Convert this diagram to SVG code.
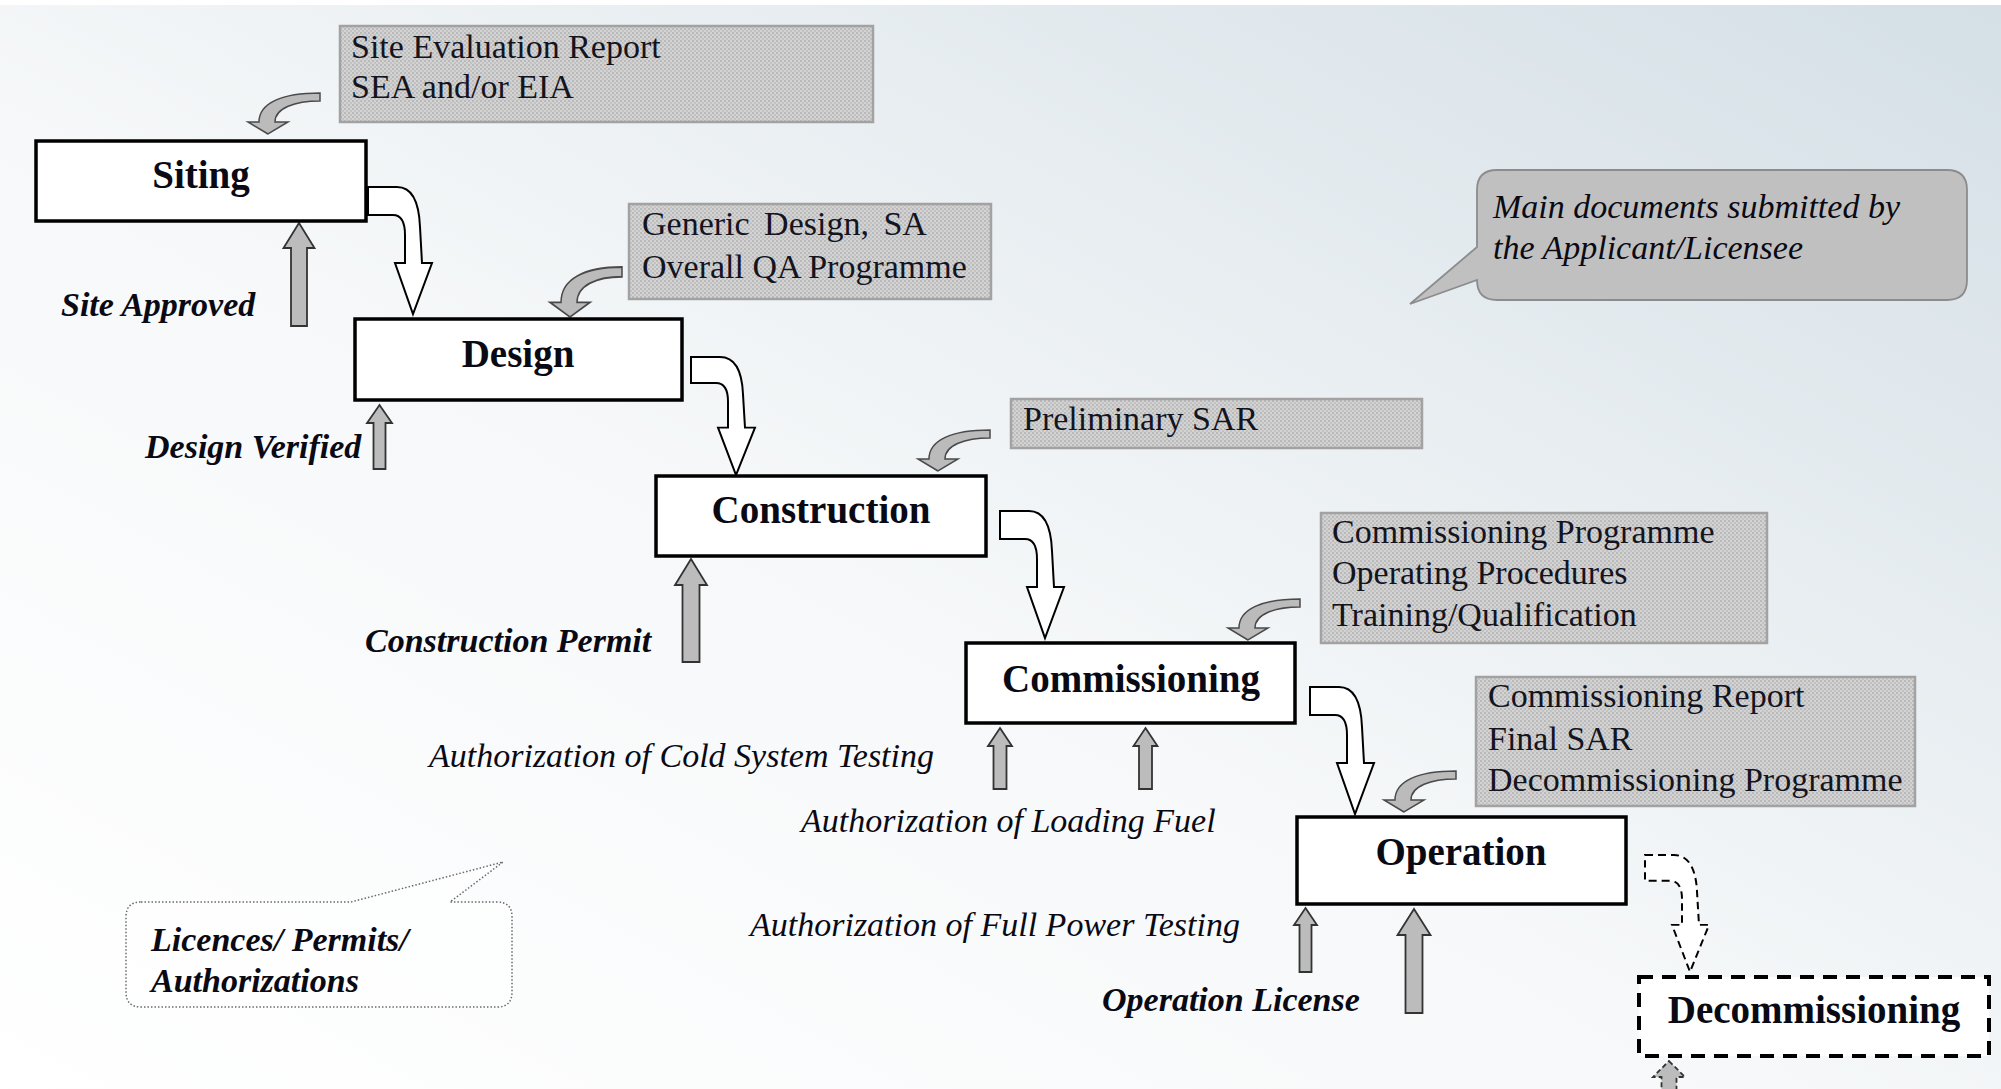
<svg xmlns="http://www.w3.org/2000/svg" xmlns:xlink="http://www.w3.org/1999/xlink" width="2001" height="1089" viewBox="0 0 2001 1089">
<defs>
<linearGradient id="bg" x1="0" y1="1" x2="1" y2="0">
<stop offset="0" stop-color="#ffffff"/>
<stop offset="0.45" stop-color="#f6f8f9"/>
<stop offset="1" stop-color="#d4dfe6"/>
</linearGradient>
<pattern id="dots" width="4" height="4" patternUnits="userSpaceOnUse">
<rect width="4" height="4" fill="#d3d3d3"/>
<rect x="0" y="0" width="2" height="2" fill="#b9b9b9"/>
<rect x="2" y="2" width="2" height="2" fill="#c2c2c2"/>
</pattern>
<path id="flow" d="M0,0 L29,0 C43,0 51,14 52,40 L54,76 L64,76 L45,127 L27,76 L37,76 L37,48 C37,35 33,28 25,28 L0,28 Z"/>
<path id="doc" d="M0,0 L-20,-12 L-9,-12 C-9,-31 14,-41 52,-41 L52,-33 C27,-33 7,-26 7,-12 L20,-12 Z"/>
</defs>
<style>
.node{fill:#ffffff;stroke:#000;stroke-width:3.5}
.nodeDash{fill:#ffffff;stroke:#000;stroke-width:4;stroke-dasharray:14 9}
.nlabel{font-family:"Liberation Serif",serif;font-weight:bold;font-size:39px;fill:#0a0a14;text-anchor:middle}
.docbox{fill:url(#dots);stroke:#a2a2a2;stroke-width:2.5}
.doctext{font-family:"Liberation Serif",serif;font-size:34px;fill:#14141e}
.lab{font-family:"Liberation Serif",serif;font-style:italic;font-size:34px;fill:#0a0a14}
.labb{font-family:"Liberation Serif",serif;font-style:italic;font-weight:bold;font-size:34px;fill:#0a0a14}
.flow{fill:#ffffff;stroke:#000;stroke-width:2}
.flowDash{fill:#ffffff;stroke:#000;stroke-width:2;stroke-dasharray:8 5}
.docarr{fill:#bbbbbb;stroke:#4a4a4a;stroke-width:1.5}
.up{fill:#bcbcbc;stroke:#333;stroke-width:1.8}
.upDash{fill:#bcbcbc;stroke:#333;stroke-width:1.8;stroke-dasharray:5 3}
</style>
<rect width="2001" height="1089" fill="url(#bg)"/>
<rect width="2001" height="5" fill="#ffffff"/>

<g id="connectors">
<use xlink:href="#flow" href="#flow" class="flow" transform="translate(368,187)"/>
<use xlink:href="#flow" href="#flow" class="flow" transform="translate(691,357) scale(1,0.93)"/>
<use xlink:href="#flow" href="#flow" class="flow" transform="translate(1000,511)"/>
<use xlink:href="#flow" href="#flow" class="flow" transform="translate(1310,687)"/>
<use xlink:href="#flow" href="#flow" class="flowDash" transform="translate(1645,855) scale(1,0.92)"/>

<use xlink:href="#doc" href="#doc" class="docarr" transform="translate(268,134)"/>
<use xlink:href="#doc" href="#doc" class="docarr" transform="translate(570,317) scale(1,1.22)"/>
<use xlink:href="#doc" href="#doc" class="docarr" transform="translate(938,471)"/>
<use xlink:href="#doc" href="#doc" class="docarr" transform="translate(1248,640)"/>
<use xlink:href="#doc" href="#doc" class="docarr" transform="translate(1404,812)"/>

<polygon class="up" points="299,223 314.5,248 307,248 307,326 291,326 291,248 283.5,248"/>
<polygon class="up" points="379.5,405 392,423 385.5,423 385.5,469 373.5,469 373.5,423 367,423"/>
<polygon class="up" points="691,559 707,585 699.5,585 699.5,662 682.5,662 682.5,585 675,585"/>
<polygon class="up" points="1000,728 1012,746 1006.5,746 1006.5,789 993.5,789 993.5,746 988,746"/>
<polygon class="up" points="1145.5,728 1157.5,746 1152,746 1152,789 1139,789 1139,746 1133.5,746"/>
<polygon class="up" points="1305.5,908 1317,925 1311.5,925 1311.5,972 1299.5,972 1299.5,925 1294,925"/>
<polygon class="up" points="1414,909 1430.5,935 1422.5,935 1422.5,1013 1405.5,1013 1405.5,935 1397.5,935"/>
<polygon class="upDash" points="1669,1061 1685,1077 1676.5,1077 1676.5,1095 1661.5,1095 1661.5,1077 1653,1077"/>
</g>

<g id="siting">
<rect class="node" x="36" y="141" width="330" height="80"/>
<text class="nlabel" x="201" y="188">Siting</text>
</g>
<g id="design">
<rect class="node" x="355" y="319" width="327" height="81"/>
<text class="nlabel" x="518" y="367">Design</text>
</g>
<g id="construction">
<rect class="node" x="656" y="476" width="330" height="80"/>
<text class="nlabel" x="821" y="523">Construction</text>
</g>
<g id="commissioning">
<rect class="node" x="966" y="643" width="329" height="80"/>
<text class="nlabel" x="1131" y="692">Commissioning</text>
</g>
<g id="operation">
<rect class="node" x="1297" y="817" width="329" height="87"/>
<text class="nlabel" x="1461" y="865">Operation</text>
</g>
<g id="decommissioning">
<rect class="nodeDash" x="1639" y="977" width="350" height="79"/>
<text class="nlabel" x="1814" y="1023">Decommissioning</text>
</g>

<g id="doc-siting">
<rect class="docbox" x="340" y="26" width="533" height="96"/>
<text class="doctext" x="351" y="58">Site Evaluation Report</text>
<text class="doctext" x="351" y="98">SEA and/or EIA</text>
</g>
<g id="doc-design">
<rect class="docbox" x="629" y="204" width="362" height="95"/>
<text class="doctext" x="642" y="235" word-spacing="6">Generic Design, SA</text>
<text class="doctext" x="642" y="278">Overall QA Programme</text>
</g>
<g id="doc-construction">
<rect class="docbox" x="1011" y="399" width="411" height="49"/>
<text class="doctext" x="1023" y="430">Preliminary SAR</text>
</g>
<g id="doc-commissioning">
<rect class="docbox" x="1321" y="513" width="446" height="130"/>
<text class="doctext" x="1332" y="543">Commissioning Programme</text>
<text class="doctext" x="1332" y="584">Operating Procedures</text>
<text class="doctext" x="1332" y="626">Training/Qualification</text>
</g>
<g id="doc-operation">
<rect class="docbox" x="1476" y="677" width="439" height="129"/>
<text class="doctext" x="1488" y="707">Commissioning Report</text>
<text class="doctext" x="1488" y="750">Final SAR</text>
<text class="doctext" x="1488" y="791">Decommissioning Programme</text>
</g>

<g id="labels">
<text class="labb" x="61" y="316">Site Approved</text>
<text class="labb" x="145" y="458">Design Verified</text>
<text class="labb" x="365" y="652">Construction Permit</text>
<text class="lab" x="429" y="767">Authorization of Cold System Testing</text>
<text class="lab" x="801" y="832">Authorization of Loading Fuel</text>
<text class="lab" x="750" y="936">Authorization of Full Power Testing</text>
<text class="labb" x="1102" y="1011">Operation License</text>
</g>

<g id="callout-documents">
<path d="M1497,170 H1947 Q1967,170 1967,190 V280 Q1967,300 1947,300 H1497 Q1477,300 1477,280 L1410,304 L1477,247 V190 Q1477,170 1497,170 Z" fill="#c0c0c0" stroke="#8c8c8c" stroke-width="1.8"/>
<text class="lab" x="1493" y="218">Main documents submitted by</text>
<text class="lab" x="1493" y="259">the Applicant/Licensee</text>
</g>
<g id="callout-licences">
<path d="M141,902 H351 L503,862 L450,902 H497 Q512,902 512,917 V992 Q512,1007 497,1007 H141 Q126,1007 126,992 V917 Q126,902 141,902 Z" fill="#ffffff" fill-opacity="0.6" stroke="#6a6a6a" stroke-width="1.5" stroke-dasharray="1.5 2"/>
<text class="labb" x="151" y="951">Licences/ Permits/</text>
<text class="labb" x="151" y="992">Authorizations</text>
</g>
</svg>
